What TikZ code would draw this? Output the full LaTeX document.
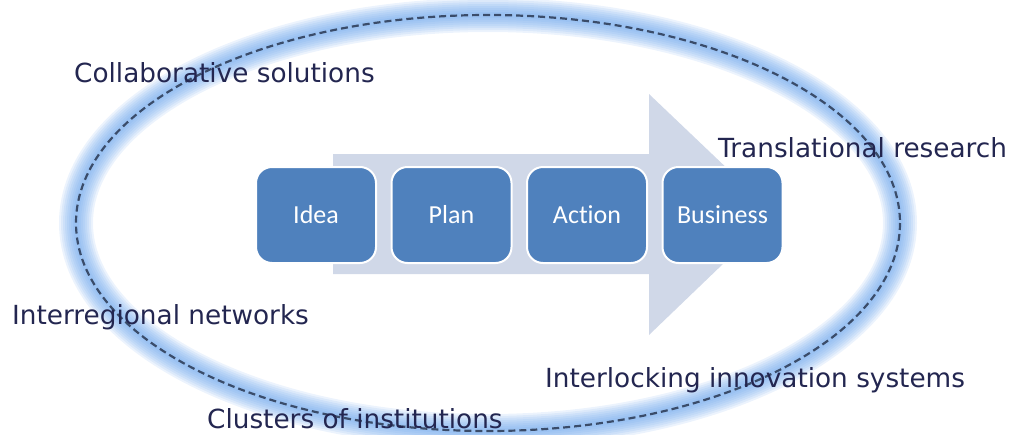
\documentclass[tikz,border=0pt]{standalone}
\usepackage{fontspec}
\setmainfont{DejaVu Sans}
\newfontfamily\boxfont[Ligatures=NoCommon]{Carlito}
\usetikzlibrary{positioning}
\definecolor{glowblue}{RGB}{100,160,235}
\definecolor{ringline}{RGB}{58,76,106}
\definecolor{arrowgrey}{RGB}{208,216,232}
\definecolor{boxblue}{RGB}{79,129,189}
\definecolor{labelnavy}{RGB}{35,38,80}
\begin{document}
\begin{tikzpicture}[x=1pt,y=-1pt,line join=round,line cap=round,node distance=13.5pt,
	stage/.style={draw=white,line width=2pt,fill=boxblue,rounded corners=16pt,minimum width=120pt,minimum height=96pt,text=white,font=\boxfont\fontsize{26}{30}\selectfont},
	ringlabel/.style={anchor=base west,inner sep=0pt,text=labelnavy,font=\fontsize{26.3}{30}\selectfont}]
				\useasboundingbox (0,0) rectangle (1009,434);
				% glow round the ring
				\foreach \w in {34,30,26,22,18,14,10,6}
					\draw[glowblue,line width=\w pt,opacity=0.12] (488,223) ellipse[x radius=412,y radius=208];
				\draw[ringline,line width=2.2pt,line cap=butt,dash pattern=on 7pt off 4pt] (488,223) ellipse[x radius=412,y radius=208];
				% big arrow
				\fill[arrowgrey] (333,154)--(649,154)--(649,94)--(775,214)--(649,335)--(649,274)--(333,274)--cycle;
				\node[stage] (idea) at (316,215) {Idea};
				\node[stage,right=of idea] (plan) {Plan};
				\node[stage,right=of plan] (action) {Action};
				\node[stage,right=of action] (business) {Business};
				\node[ringlabel] (collab) at (74,82) {Collaborative solutions};
				\node[ringlabel] (transl) at (718,157) {Translational research};
				\node[ringlabel] (interreg) at (12,324) {Interregional networks};
				\node[ringlabel] (interlock) at (545,387) {Interlocking innovation systems};
				\node[ringlabel] (clusters) at (207,428) {Clusters of institutions};
			\end{tikzpicture}
\end{document}
